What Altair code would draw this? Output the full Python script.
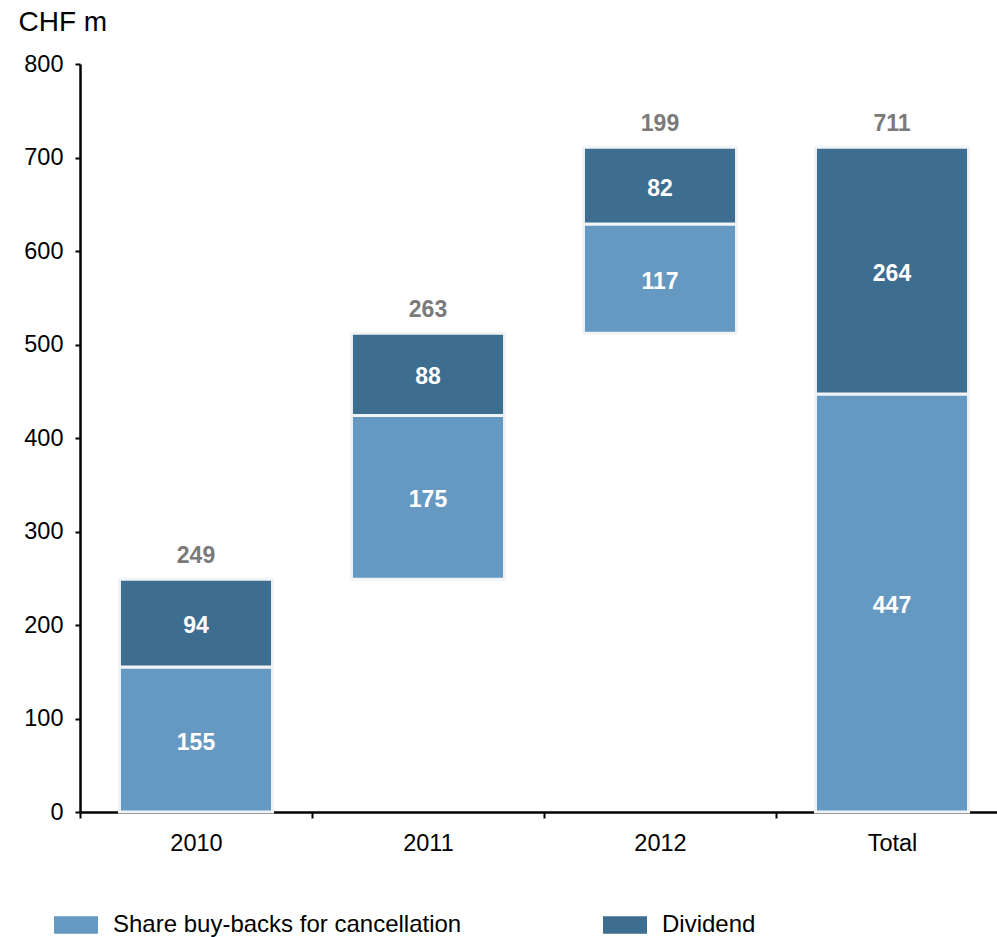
import altair as alt
import pandas as pd

categories = ["2010", "2011", "2012", "Total"]
buybacks = [155, 175, 117, 447]
dividends = [94, 88, 82, 264]
totals = [249, 263, 199, 711]
series_names = ["Share buy-backs for cancellation", "Dividend"]
colors = ["#6699c2", "#3d6d8f"]

rows = []
label_rows = []
base = 0
for i, c in enumerate(categories):
    start = 0 if c == "Total" else base
    b = buybacks[i]
    d = dividends[i]
    rows.append(dict(cat=c, series=series_names[0], y0=start, y1=start + b, val=b, mid=start + b / 2))
    rows.append(dict(cat=c, series=series_names[1], y0=start + b, y1=start + b + d, val=d, mid=start + b + d / 2))
    label_rows.append(dict(cat=c, top=start + b + d, total=totals[i]))
    if c != "Total":
        base = start + b + d

seg = pd.DataFrame(rows)
tops = pd.DataFrame(label_rows)

FONT = "Liberation Sans"

x_scale = alt.Scale(domain=categories, range=[0, 928], paddingInner=0, paddingOuter=0)
x = alt.X(
    "cat:N",
    sort=categories,
    scale=x_scale,
    axis=alt.Axis(
        title=None, labelAngle=0, tickBand="extent", tickSize=6, tickWidth=2,
        tickColor="black", domainColor="black", domainWidth=2.5,
        labelFontSize=23.5, labelFont=FONT, labelColor="black", labelPadding=13,
    ),
)
y_scale = alt.Scale(domain=[0, 800], nice=False)

bars = alt.Chart(seg).mark_bar(
    stroke="#f1f4f7", strokeWidth=3, width=alt.RelativeBandSize(0.66)
).encode(
    x=x,
    y=alt.Y(
        "y0:Q", scale=y_scale,
        axis=alt.Axis(
            title="CHF m", titleAngle=0, titleAlign="left", titleBaseline="alphabetic",
            titleX=-62, titleY=-34, titleFontSize=28, titleFont=FONT, titleFontWeight="normal",
            titleColor="black",
            values=list(range(0, 801, 100)), grid=False, tickSize=5, tickWidth=2,
            tickColor="black", domainColor="black", domainWidth=2.5,
            labelFontSize=23.5, labelFont=FONT, labelColor="black", labelPadding=12,
        ),
    ),
    y2="y1:Q",
    color=alt.Color(
        "series:N",
        scale=alt.Scale(domain=series_names, range=colors),
        legend=alt.Legend(
            title=None, orient="none", direction="horizontal", legendX=-26, legendY=839,
            symbolType="M-1,-0.4L1,-0.4L1,0.4L-1,0.4Z", symbolSize=1936,
            symbolStrokeWidth=0, labelFontSize=24, labelFont=FONT, labelColor="black",
            labelOffset=15, columnPadding=141, labelLimit=0,
        ),
    ),
)

inner = alt.Chart(seg).mark_text(
    color="white", fontWeight="bold", fontSize=23, font=FONT, baseline="middle", dy=3
).encode(x=alt.X("cat:N", sort=categories, scale=x_scale), y="mid:Q", text="val:Q")

top_text = alt.Chart(tops).mark_text(
    color="#7a7a7a", fontWeight="bold", fontSize=23, font=FONT, baseline="alphabetic", dy=-16
).encode(x=alt.X("cat:N", sort=categories, scale=x_scale), y="top:Q", text="total:Q")

chart = alt.layer(bars, inner, top_text).properties(
    width=917, height=748,
    autosize=alt.AutoSizeParams(type="none"),
    padding={"left": 80, "top": 64, "right": 0, "bottom": 125},
).configure_view(stroke=None)

chart.save("out.html", embed_options={"renderer": "svg", "actions": False})
